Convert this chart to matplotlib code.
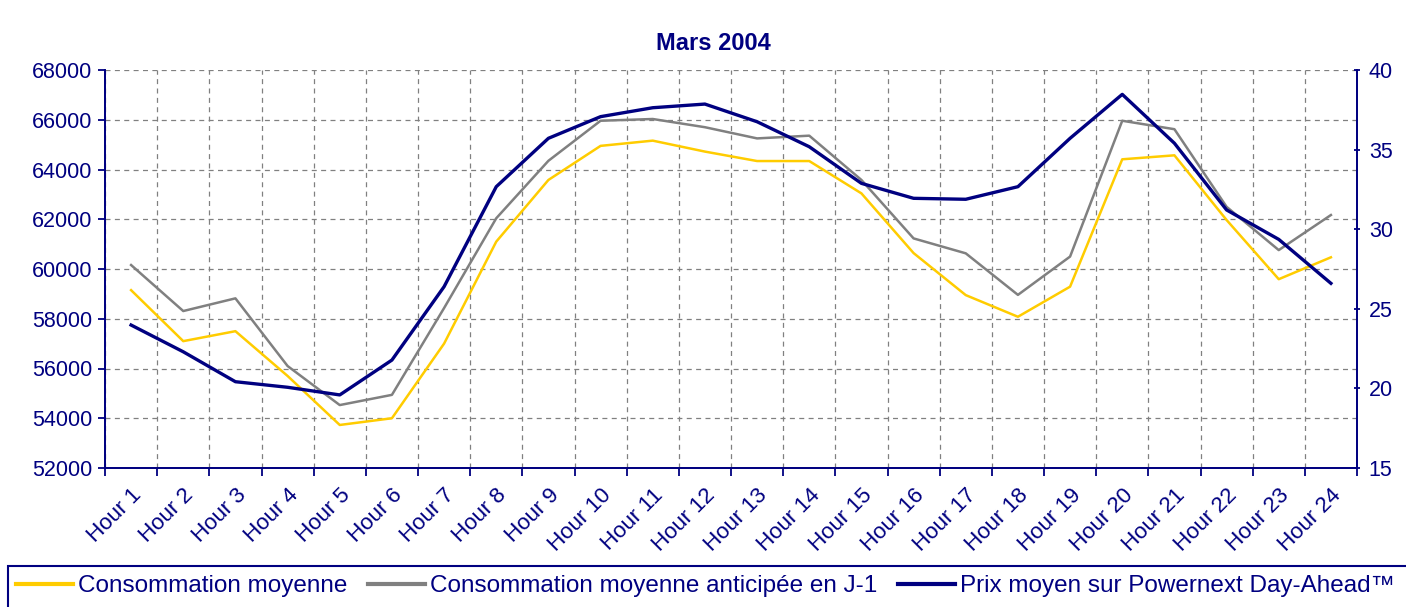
import numpy as np
import matplotlib
matplotlib.use("Agg")
import matplotlib.pyplot as plt
import matplotlib.transforms as mtransforms
from matplotlib.patches import Rectangle

hours = ["Hour %d" % i for i in range(1, 25)]

consommation = [59150, 57100, 57500, 55700, 53730, 54000, 57000, 61100,
                63580, 64950, 65160, 64720, 64340, 64340, 63040, 60640,
                58950, 58080, 59290, 64410, 64570, 61970, 59590, 60470]

anticipee = [60160, 58310, 58820, 56100, 54530, 54940, 58430, 62040,
             64350, 65960, 66030, 65700, 65250, 65360, 63580, 61230,
             60630, 58960, 60500, 65960, 65620, 62500, 60760, 62170]

prix = [23.98, 22.3, 20.42, 20.07, 19.59, 21.78, 26.39, 32.67,
        35.71, 37.07, 37.63, 37.86, 36.75, 35.18, 32.88, 31.94,
        31.88, 32.67, 35.71, 38.47, 35.40, 31.21, 29.36, 26.60]

title = "Mars 2004"
labels = ["Consommation moyenne",
          "Consommation moyenne anticipée en J-1",
          "Prix moyen sur Powernext Day-Ahead\u2122"]

navy = "#000080"
yellow = "#FFCC00"
grey = "#808080"

plt.rcParams['font.family'] = ['Liberation Sans', 'DejaVu Sans']

W, H = 1406, 607
fig = plt.figure(figsize=(W / 100, H / 100), dpi=100)
ax = fig.add_axes([105 / W, 1 - 468 / H, (1357 - 105) / W, (468 - 70) / H])
ax2 = ax.twinx()

x = np.arange(1, len(hours) + 1)
l1, = ax.plot(x, consommation, color=yellow, lw=1.8)
l2, = ax.plot(x, anticipee, color=grey, lw=1.8)
l3, = ax2.plot(x, prix, color=navy, lw=2.4)

ax.set_xlim(0.5, len(hours) + 0.5)
ax.set_ylim(52000, 68000)
ax.set_yticks(np.arange(52000, 68001, 2000))
ax2.set_ylim(15, 40)
ax2.set_yticks(np.arange(15, 41, 5))

# category boundaries for grid and ticks, labels at centers
ax.set_xticks(np.arange(0.5, len(hours) + 1, 1.0))
ax.set_xticklabels([])
ax.set_xticks(x, minor=True)
ax.set_xticklabels(hours, minor=True, rotation=45, ha='right', va='top',
                   rotation_mode='anchor')
shift = mtransforms.ScaledTranslation(-10 / 100, -4 / 100, fig.dpi_scale_trans)
for lab in ax.get_xticklabels(minor=True):
    lab.set_transform(lab.get_transform() + shift)

ax.grid(True, which='major', color=grey, linestyle=(0, (4, 3.5)), lw=0.9)
ax.set_axisbelow(True)

for a in (ax, ax2):
    for side in ('left', 'bottom', 'right'):
        a.spines[side].set_color(navy)
        a.spines[side].set_linewidth(1.3)
    a.spines['top'].set_visible(False)

ax.tick_params(axis='y', which='major', colors=navy, labelsize=15.5,
               length=5, width=1.3, direction='out', pad=4)
ax.tick_params(axis='x', which='major', color=navy, length=6, width=1.3,
               direction='out')
ax.tick_params(axis='x', which='minor', length=0, labelcolor=navy,
               labelsize=16, pad=12)
ax2.tick_params(axis='y', colors=navy, labelsize=15.5, length=5, width=1.3,
                direction='inout', pad=6)

fig.text(713 / W, 1 - 43 / H, title, ha='center', va='center',
         fontsize=17, fontweight='bold', color=navy)

# legend box at the bottom
fig.patches.append(Rectangle((8 / W, -0.05), 1.2, (H - 566) / H + 0.05,
                             transform=fig.transFigure, fill=False,
                             edgecolor=navy, lw=1.5))
leg = fig.legend([l1, l2, l3], labels, loc='center left',
                 bbox_to_anchor=(16 / W, 1 - 586 / H), ncol=3,
                 frameon=False, fontsize=17.5, handlelength=2.35,
                 handletextpad=0.2, columnspacing=0.85, borderpad=0,
                 borderaxespad=0)
for t in leg.get_texts():
    t.set_color(navy)
for h in leg.legend_handles:
    h.set_linewidth(3)

fig.savefig("out.png", dpi=100, facecolor='white')
